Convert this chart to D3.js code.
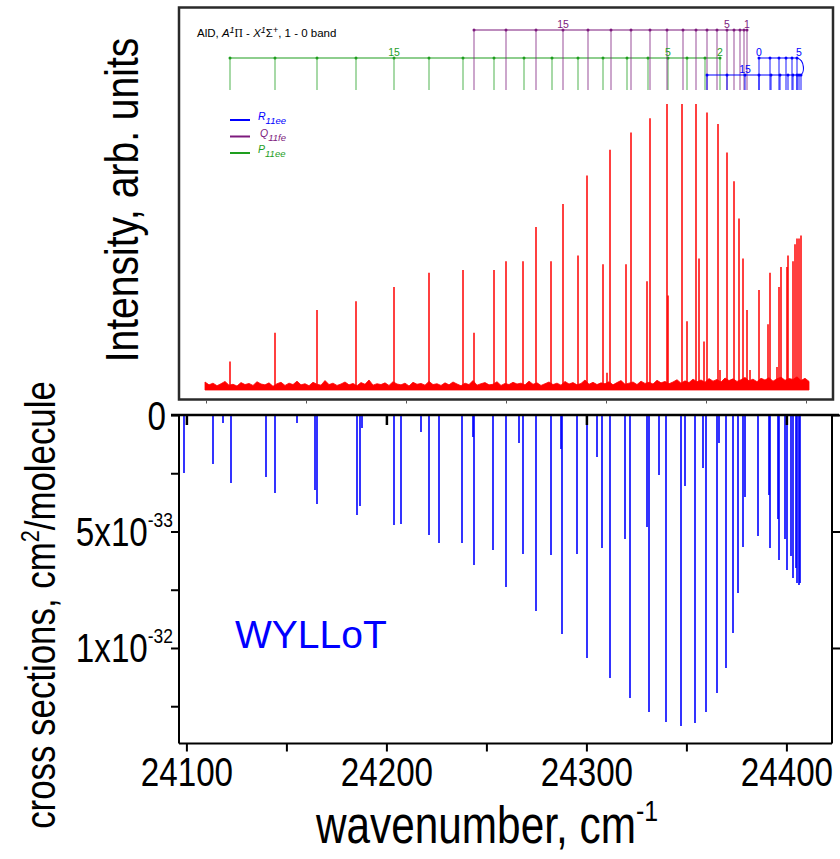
<!DOCTYPE html>
<html><head><meta charset="utf-8">
<script src="https://cdn.jsdelivr.net/npm/d3@7"></script>
<style>body{margin:0;background:#fff}svg{display:block}</style>
</head><body>
<svg id="c" width="840" height="859"></svg>
<script>
// ---------------- DATA ----------------
// Top panel (experimental, arb. units): peak wavenumbers and intensities
const topPeakWn = [24112,24134.5,24155.5,24175,24194,24211.5,24228.5,24234,24244,24250,24258.5,24265,24272.5,24278.5,24286,24290.5,24298.5,24300.5,24302,24310,24312.5,24320.5,24322,24330.5,24331,24338,24340.5,24345,24346.5,24349,24350.5,24356,24357,24360.5,24364,24366.5,24368.5,24370.5,24372,24376.5,24381,24382,24385.5,24386.5,24387.5,24390.5,24391,24393.5,24394.5,24395.5,24396.5,24397.5];
const topPeakInt = [0.10,0.20,0.28,0.31,0.36,0.41,0.42,0.20,0.42,0.45,0.45,0.57,0.45,0.65,0.47,0.75,0.44,0.06,0.84,0.44,0.90,0.38,0.95,1.00,0.33,1.00,0.24,1.00,0.46,0.17,0.97,0.93,0.07,0.83,0.73,0.60,0.46,0.28,0.07,0.35,0.23,0.41,0.08,0.36,0.43,0.43,0.47,0.45,0.51,0.53,0.53,0.54];
// baseline noise of top spectrum, sampled every 2 cm-1 from 24099.5
const noiseStart = 24099.5, noiseStep = 2;
const noise = [28,18,24,15,22,30,17,20,14,26,19,23,16,29,21,18,25,13,22,27,
16,24,19,31,18,22,15,27,20,17,33,19,24,16,21,28,18,23,15,26,
20,35,17,22,19,25,16,29,21,18,24,14,27,20,23,17,30,19,22,16,
25,18,28,21,15,24,19,33,17,22,26,18,20,29,16,23,19,27,21,24,
18,31,20,25,16,22,28,19,24,17,30,21,26,18,23,35,20,27,19,25,
22,29,18,26,33,20,24,28,19,31,23,27,21,34,25,30,22,28,36,24,
32,26,38,29,35,27,40,31,37,28,42,33,39,30,36,44,32,38,29,41,
35,43,31,39,45,34,40,37,46,33,41,30].map(v => v / 1000);

// Rotational assignments (wavenumbers, top scale)
const pBranchJ = [2,3,4,5,6,7,8,9,10,11,12,13,14,15,16,17,18,19];
const pBranch = [24357,24349.5,24340.5,24331,24321,24310.5,24298.5,24286,24273,24259,24244,24228.5,24211.5,24194,24175,24155.5,24134.5,24112];
const qBranchJ = [1,2,3,4,5,6,7,8,9,10,11,12,13,14,15,16,17,18];
const qBranch = [24370.5,24369,24367,24364,24360.5,24355.5,24350.5,24345,24338.5,24330.5,24322,24312.5,24302.5,24291,24278.5,24265,24250,24234];
const rBranchUpper = [24376.5,24382,24386.5,24390,24393,24395.5];          // J = 0..5
const rBranchLower = [24397.5,24396.5,24395.5,24393.5,24391,24387,24382.5,24376.5,24369.5,24360.5,24350.5];
const pLabels = [[15,"15"],[5,"5"],[2,"2"]];
const qLabels = [[15,"15"],[5,"5"],[1,"1"]];

// Bottom panel (WYLLoT cross sections, cm2/molecule)
const botWn = [24098.8,24113.3,24118.3,24122.3,24139.8,24144.3,24155.3,24164.3,24165.3,24185.3,24186.8,24187.8,24203.8,24207.3,24217.3,24221.3,24226.3,24237.8,24243.3,24243.8,24253.3,24259.8,24266.3,24268.3,24274.8,24282.3,24287.3,24287.8,24295.3,24300.3,24305.3,24307.8,24311.8,24319.3,24321.8,24330.3,24331.3,24336.3,24339.8,24347.3,24349.3,24354.3,24358.3,24359.8,24365.3,24366.3,24369.8,24373.3,24375.8,24378.3,24379.3,24385.8,24391.3,24391.8,24395.8,24396.3,24399.3,24400.3,24402.3,24403.3,24404.8,24405.3,24406.3,24406.8];
const botCs = [2.49,2.10,0.34,2.92,2.66,3.35,0.34,3.22,3.82,4.29,3.91,0.56,4.72,4.68,0.73,5.15,5.49,5.49,0.94,6.44,5.79,7.38,1.20,5.97,8.41,6.01,1.46,9.40,5.97,10.43,1.80,5.71,11.29,5.32,12.15,4.81,12.75,2.58,13.18,13.35,3.05,13.22,2.27,12.75,11.93,1.20,10.86,9.36,7.64,5.67,3.52,5.19,3.43,5.71,4.46,6.22,5.32,6.65,6.05,7.00,6.57,7.21,7.30,7.21].map(v => v * 1e-33);

const xTickValues = [24100,24150,24200,24250,24300,24350,24400];
const xTickLabels = ["24100","","24200","","24300","","24400"];
const yTickValues = [0,2.5e-33,5e-33,7.5e-33,1e-32,1.25e-32];
const yTickLabels = [["0",""],["",""],["5x10","-33"],["",""],["1x10","-32"],["",""]];

// ---------------- DRAW ----------------
const svg = d3.select("#c");
const SANS = "'Liberation Sans',Arial,sans-serif";
const SX = 0.83; // condensed look of the axis texts
const GREEN = "#1e9e1e", PURPLE = "#7d1a7d", BLUE = "#0000ff", RED = "#ff0000";

const xTop = d3.scaleLinear().domain([24086, 24413.5]).range([178, 833]);
const yTop = d3.scaleLinear().domain([0, 1]).range([390, 104]);
const xBot = d3.scaleLinear().domain([24096.3, 24422.8]).range([179, 832]);
const yBot = d3.scaleLinear().domain([0, 1.41e-32]).range([415, 743.5]);

// --- top panel frame
svg.append("rect").attr("x",179).attr("y",7.5).attr("width",654).attr("height",392)
  .attr("fill","#fff").attr("stroke","#2a2a2a").attr("stroke-width",2.5);

// top panel ticks
const topAx = svg.append("g").attr("transform","translate(0,400.5)")
  .call(d3.axisBottom(xTop).tickValues(xTickValues).tickSize(3).tickFormat(""));
topAx.select(".domain").remove();
topAx.selectAll("line").attr("stroke","#555").attr("stroke-width",1);

// noise band
const area = d3.area().x((d,i)=>xTop(noiseStart + noiseStep*i)).y0(yTop(0)).y1(d=>yTop(d));
svg.append("path").datum(noise).attr("d",area).attr("fill",RED).attr("stroke",RED).attr("stroke-width",0.8);
// peaks
svg.append("g").selectAll("line").data(topPeakWn).join("line")
  .attr("x1",d=>xTop(d)).attr("x2",d=>xTop(d))
  .attr("y1",yTop(0)).attr("y2",(d,i)=>yTop(topPeakInt[i]))
  .attr("stroke",RED).attr("stroke-width",1.5);

// title
const tt = svg.append("text").attr("x",197).attr("y",37).attr("font-family",SANS).attr("font-size",11.5).attr("fill","#000");
tt.append("tspan").text("AlD, ");
tt.append("tspan").attr("font-style","italic").text("A");
tt.append("tspan").attr("font-style","italic").attr("font-size",9).attr("dy",-4).text("1");
tt.append("tspan").attr("dy",4).attr("font-family","'Liberation Serif',serif").text("\u03A0");
tt.append("tspan").text("  -  ");
tt.append("tspan").attr("font-style","italic").text("X");
tt.append("tspan").attr("font-style","italic").attr("font-size",9).attr("dy",-4).text("1");
tt.append("tspan").attr("dy",4).text("\u03A3");
tt.append("tspan").attr("font-size",9).attr("dy",-4).text("+");
tt.append("tspan").attr("dy",4).text(", 1 - 0 band");

// branch stick diagrams
const lowEnd = 90;
function branch(vals, level, color) {
  const g = svg.append("g");
  g.append("line").attr("x1",xTop(d3.min(vals))).attr("x2",xTop(d3.max(vals)))
    .attr("y1",level).attr("y2",level).attr("stroke",color).attr("stroke-width",1.1);
  g.selectAll(".v").data(vals).join("line")
    .attr("x1",d=>xTop(d)).attr("x2",d=>xTop(d)).attr("y1",level).attr("y2",lowEnd)
    .attr("stroke",color).attr("stroke-opacity",0.6).attr("stroke-width",1.3);
  g.selectAll("circle").data(vals).join("circle")
    .attr("cx",d=>xTop(d)).attr("cy",level).attr("r",1.5).attr("fill",color);
  return g;
}
branch(pBranch, 58, GREEN);
branch(qBranch, 30, PURPLE);
// R branch with band head
const rUp = 58, rLo = 75;
const gR = svg.append("g");
const headX = xTop(d3.max(rBranchLower));
const pth = d3.path();
pth.moveTo(xTop(d3.min(rBranchLower)), rLo);
pth.lineTo(headX - 1, rLo);
pth.bezierCurveTo(headX + 4, rLo - 1, headX + 4, rUp + 2, xTop(d3.max(rBranchUpper)), rUp);
pth.lineTo(xTop(d3.min(rBranchUpper)), rUp);
gR.append("path").attr("d",pth.toString()).attr("fill","none").attr("stroke",BLUE).attr("stroke-width",1.1);
[[rBranchUpper,rUp],[rBranchLower,rLo]].forEach(([vals,lv])=>{
  gR.selectAll(null).data(vals).join("line")
    .attr("x1",d=>xTop(d)).attr("x2",d=>xTop(d)).attr("y1",lv).attr("y2",lowEnd)
    .attr("stroke",BLUE).attr("stroke-opacity",0.7).attr("stroke-width",1.3);
  gR.selectAll(null).data(vals).join("circle")
    .attr("cx",d=>xTop(d)).attr("cy",lv).attr("r",1.5).attr("fill",BLUE);
});
// branch labels
pLabels.forEach(([J,t])=>{
  svg.append("text").attr("x",xTop(pBranch[pBranchJ.indexOf(J)])).attr("y",56).attr("text-anchor","middle")
    .attr("font-family",SANS).attr("font-size",10.5).attr("fill",GREEN).text(t);
});
qLabels.forEach(([J,t])=>{
  svg.append("text").attr("x",xTop(qBranch[qBranchJ.indexOf(J)])).attr("y",28).attr("text-anchor","middle")
    .attr("font-family",SANS).attr("font-size",10.5).attr("fill",PURPLE).text(t);
});
[[rBranchUpper[0],56,"0"],[rBranchUpper[5]+1,56,"5"],[rBranchLower[8],73,"15"]].forEach(([v,y,t])=>{
  svg.append("text").attr("x",xTop(v)).attr("y",y).attr("text-anchor","middle")
    .attr("font-family",SANS).attr("font-size",10.5).attr("fill",BLUE).text(t);
});

// legend
const legend = [["R","11ee",BLUE],["Q","11fe",PURPLE],["P","11ee",GREEN]];
legend.forEach(([m,s,c],i)=>{
  const y = 120 + i*16.5;
  svg.append("line").attr("x1",230).attr("x2",250).attr("y1",y).attr("y2",y).attr("stroke",c).attr("stroke-width",2);
  const t = svg.append("text").attr("x",258 + (i===1?2:0)).attr("y",y).attr("font-family",SANS).attr("font-size",10.5)
    .attr("font-style","italic").attr("fill",c);
  t.append("tspan").text(m);
  t.append("tspan").attr("font-size",9.5).attr("dy",4).text(s);
});

// Intensity label
svg.append("text").attr("transform",`translate(138,200) rotate(-90) scale(${SX},1)`).attr("text-anchor","middle")
  .attr("font-family",SANS).attr("font-size",47).attr("fill","#000").text("Intensity, arb. units");

// --- bottom panel
svg.append("g").selectAll("line").data(botWn).join("line")
  .attr("x1",d=>xBot(d)).attr("x2",d=>xBot(d))
  .attr("y1",yBot(0)).attr("y2",(d,i)=>yBot(botCs[i]))
  .attr("stroke",BLUE).attr("stroke-width",1.6);

// frame lines
const ax = svg.append("g").attr("stroke","#000");
ax.append("line").attr("x1",171).attr("x2",839).attr("y1",yBot(0)).attr("y2",yBot(0)).attr("stroke-width",2.5);
ax.append("line").attr("x1",179).attr("x2",179).attr("y1",yBot(0)).attr("y2",743.5).attr("stroke-width",2);
ax.append("line").attr("x1",832).attr("x2",832).attr("y1",yBot(0)).attr("y2",743.5).attr("stroke-width",2);
ax.append("line").attr("x1",179).attr("x2",832).attr("y1",743.5).attr("y2",743.5).attr("stroke-width",2);

// inward top ticks
const topIn = svg.append("g").attr("transform",`translate(0,${yBot(0)})`)
  .call(d3.axisBottom(xBot).tickValues(xTickValues.filter((d,i)=>xTickLabels[i]!=="")).tickSize(10).tickFormat(""));
topIn.select(".domain").remove();
topIn.selectAll("line").attr("stroke","#000").attr("stroke-width",2.5);

// bottom axis
const bAx = svg.append("g").attr("transform","translate(0,743.5)")
  .call(d3.axisBottom(xBot).tickValues(xTickValues).tickSize(8).tickPadding(6)
    .tickFormat((d,i)=>xTickLabels[i]));
bAx.select(".domain").remove();
bAx.selectAll("line").attr("stroke","#000").attr("stroke-width",2);
bAx.selectAll("text").attr("font-family",SANS).attr("font-size",40).attr("fill","#000")
  .attr("transform",`scale(${SX},1)`);

// left axis
const lAx = svg.append("g").attr("transform","translate(179,0)")
  .call(d3.axisLeft(yBot).tickValues(yTickValues).tickSize(8).tickFormat(""));
lAx.select(".domain").remove();
lAx.selectAll("line").attr("stroke","#000").attr("stroke-width",2);
const rAx = svg.append("g").attr("transform","translate(832,0)")
  .call(d3.axisRight(yBot).tickValues(yTickValues.filter((d,i)=>yTickLabels[i][0]!=="")).tickSize(8).tickFormat(""));
rAx.select(".domain").remove();
rAx.selectAll("line").attr("stroke","#000").attr("stroke-width",2);

// y tick labels
yTickValues.forEach((v,i)=>{
  const [m,e] = yTickLabels[i];
  if (!m) return;
  const t = svg.append("text").attr("transform",`translate(${e ? 173 : 166},${yBot(v)+14.5}) scale(${SX},1)`)
    .attr("text-anchor","end").attr("font-family",SANS).attr("font-size",40).attr("fill","#000");
  t.append("tspan").text(m);
  if (e) t.append("tspan").attr("font-size",21).attr("dy",-19).text(e);
});

// WYLLoT
svg.append("text").attr("x",235).attr("y",648).attr("font-family",SANS).attr("font-size",39)
  .attr("fill",BLUE).text("WYLLoT");

// y label bottom
const yl = svg.append("text").attr("transform",`translate(55,605) rotate(-90) scale(${SX},1)`).attr("text-anchor","middle")
  .attr("font-family",SANS).attr("font-size",42).attr("fill","#000");
yl.append("tspan").text("cross sections, cm");
yl.append("tspan").attr("font-size",26).attr("dy",-16).text("2");
yl.append("tspan").attr("dy",16).text("/molecule");

// x label
const xl = svg.append("text").attr("transform",`translate(487,843) scale(${SX},1)`).attr("text-anchor","middle")
  .attr("font-family",SANS).attr("font-size",51).attr("fill","#000");
xl.append("tspan").text("wavenumber, cm");
xl.append("tspan").attr("font-size",30).attr("dy",-22).text("-1");
</script>
</body></html>
